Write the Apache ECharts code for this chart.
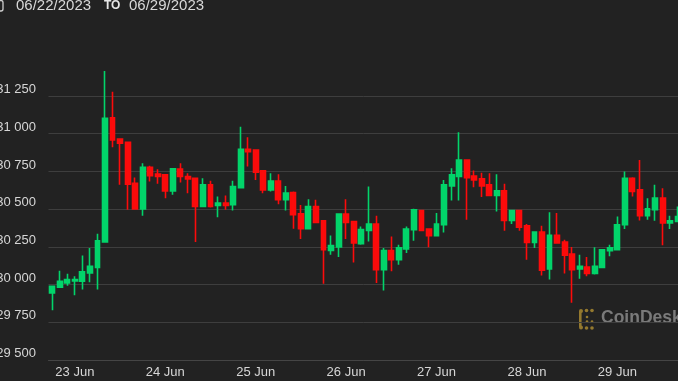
<!DOCTYPE html>
<html><head><meta charset="utf-8">
<script src="https://cdn.jsdelivr.net/npm/echarts@6/dist/echarts.min.js"></script>
<style>html,body{margin:0;padding:0;background:#222222;overflow:hidden}#c{width:678px;height:381px}</style>
</head><body><div id="c"></div>
<script>
// 2-hour candles, BTC/USD
const startUTC = Date.UTC(2023, 5, 22, 18, 0); // first candle: 22 Jun 18:00
const stepHours = 2;
const dayLabels = ['23 Jun', '24 Jun', '25 Jun', '26 Jun', '27 Jun', '28 Jun', '29 Jun'];
const rangeTitleFrom = '06/22/2023';
const rangeTitleTo = '06/29/2023';

const opens  = [29945,29982,30011,30024,30022,30077,30114,30282,31106,30965,30943,30672,30502,30778,30732,30727,30621,30765,30716,30705,30518,30661,30524,30540,30529,30643,30897,30892,30754,30628,30687,30562,30610,30469,30370,30518,30423,30227,30249,30467,30418,30271,30359,30401,30099,30225,30165,30236,30364,30491,30368,30324,30397,30654,30716,30826,30720,30701,30661,30590,30621,30425,30491,30390,30280,30348,30104,30326,30282,30203,30104,30117,30073,30114,30225,30231,30397,30705,30628,30456,30496,30573,30408,30418];
const closes = [29989,30022,30033,30033,30084,30121,30291,31102,30958,30937,30666,30502,30778,30722,30716,30621,30767,30716,30701,30518,30661,30518,30540,30524,30650,30897,30881,30745,30628,30687,30562,30606,30463,30370,30518,30412,30231,30258,30467,30412,30276,30364,30401,30099,30225,30165,30243,30368,30496,30359,30324,30401,30661,30727,30826,30709,30694,30654,30590,30621,30425,30491,30381,30280,30348,30095,30326,30276,30194,30099,30121,30073,30121,30231,30243,30397,30705,30617,30456,30502,30573,30408,30423,30451];
const lows   = [29830,29982,29993,29929,29967,30015,29967,30282,30910,30661,30496,30496,30456,30683,30668,30573,30595,30676,30606,30282,30518,30511,30447,30496,30491,30643,30782,30694,30606,30617,30533,30491,30370,30302,30370,30412,30005,30198,30183,30302,30147,30264,30286,30011,29960,30088,30132,30210,30291,30359,30247,30324,30346,30557,30557,30430,30646,30580,30590,30485,30357,30401,30357,30165,30243,30060,30033,30276,30073,29879,30038,30055,30066,30114,30187,30231,30368,30584,30425,30430,30423,30260,30368,30418];
const highs  = [29990,30091,30071,30055,30192,30243,30337,31415,31278,30965,30943,30709,30804,30787,30765,30727,30767,30804,30738,30705,30705,30689,30584,30590,30689,31046,30976,30892,30754,30738,30732,30654,30617,30527,30566,30562,30423,30326,30467,30566,30418,30385,30650,30456,30243,30319,30264,30385,30502,30491,30368,30474,30694,30771,31009,30826,30756,30742,30738,30732,30668,30491,30491,30401,30348,30390,30480,30474,30297,30249,30198,30183,30247,30231,30264,30451,30749,30712,30826,30573,30661,30639,30456,30518];

const pad = n => String(n).padStart(2, '0');
const categories = opens.map((_, i) => {
  const d = new Date(startUTC + i * stepHours * 3600000);
  return d.getUTCFullYear() + '-' + pad(d.getUTCMonth() + 1) + '-' + pad(d.getUTCDate()) + ' ' + pad(d.getUTCHours()) + ':00';
});
const ohlc = opens.map((o, i) => [o, closes[i], lows[i], highs[i]]);

const FONT = "'Liberation Sans', Arial, Helvetica, sans-serif";
const UP = '#02d46a', DOWN = '#fc0b0b';
const GOLD = '#94792f';

const chart = echarts.init(document.getElementById('c'), null, {renderer: 'canvas'});
chart.setOption({
  backgroundColor: '#222222',
  animation: false,
  grid: {left: 48.5, right: -3.4, top: 58.3, bottom: 21, containLabel: false, outerBoundsMode: 'none'},
  xAxis: {
    type: 'category',
    data: categories,
    boundaryGap: true,
    axisLine: {show: true, lineStyle: {color: '#454545', width: 1}},
    axisTick: {show: false},
    splitLine: {show: false},
    axisLabel: {
      color: '#d6d6d6', fontFamily: FONT, fontSize: 13, margin: 6,
      interval: (idx, val) => val.slice(11, 13) === '00',
      formatter: val => {
        const day = parseInt(val.slice(8, 10), 10);
        return dayLabels.find(l => parseInt(l, 10) === day) || '';
      }
    }
  },
  yAxis: {
    type: 'value',
    min: 29500, max: 31500, interval: 250,
    axisLine: {show: false},
    axisTick: {show: false},
    splitLine: {show: true, showMaxLine: false, lineStyle: {color: '#3e3e3e', width: 1}},
    axisLabel: {
      color: '#d6d6d6', fontFamily: FONT, fontSize: 13, margin: 12.5,
      showMaxLabel: false, verticalAlign: 'bottom', lineHeight: 13,
      formatter: v => String(v).replace(/\B(?=(\d{3})+(?!\d))/g, ' ')
    }
  },
  series: [{
    type: 'candlestick',
    data: ohlc,
    barWidth: 5.4,
    itemStyle: {color: UP, color0: DOWN, borderColor: UP, borderColor0: DOWN, borderWidth: 1.6}
  }],
  graphic: [
    {type: 'rect', shape: {x: -10, y: 0.5, width: 13, height: 10.5, r: 2}, style: {fill: 'none', stroke: '#cfcfcf', lineWidth: 1.3}},
    {type: 'text', x: 16, y: -2, style: {text: rangeTitleFrom, fill: '#d8d8d8', font: '15px ' + FONT, verticalAlign: 'top'}},
    {type: 'text', x: 104, y: -0.5, style: {text: 'TO', fill: '#e6e6e6', font: 'bold 12px ' + FONT, verticalAlign: 'top'}},
    {type: 'text', x: 129, y: -2, style: {text: rangeTitleTo, fill: '#d8d8d8', font: '15px ' + FONT, verticalAlign: 'top'}},
    // CoinDesk watermark
    {type: 'group', x: 579, y: 309, children: [
      {type: 'rect', shape: {x: 0, y: 2, width: 2.6, height: 16}, style: {fill: GOLD}},
      {type: 'circle', shape: {cx: 2, cy: 2, r: 2}, style: {fill: GOLD}},
      {type: 'circle', shape: {cx: 7.5, cy: 1.5, r: 1.8}, style: {fill: GOLD}},
      {type: 'circle', shape: {cx: 13, cy: 1.5, r: 1.8}, style: {fill: GOLD}},
      {type: 'circle', shape: {cx: 2, cy: 18.5, r: 2}, style: {fill: GOLD}},
      {type: 'circle', shape: {cx: 7.5, cy: 19, r: 1.8}, style: {fill: GOLD}},
      {type: 'circle', shape: {cx: 13, cy: 19, r: 1.8}, style: {fill: GOLD}},
      {type: 'circle', shape: {cx: 8, cy: 8, r: 1.3}, style: {fill: GOLD}},
      {type: 'circle', shape: {cx: 8, cy: 12.5, r: 1.3}, style: {fill: GOLD}},
      {type: 'circle', shape: {cx: 13, cy: 12.5, r: 1.3}, style: {fill: GOLD}}
    ]},
    {type: 'text', x: 601, y: 309, style: {text: 'CoinDesk', fill: '#7a7a7a', font: 'bold 17.5px ' + FONT, verticalAlign: 'top'}}
  ]
});
</script>
</body></html>
